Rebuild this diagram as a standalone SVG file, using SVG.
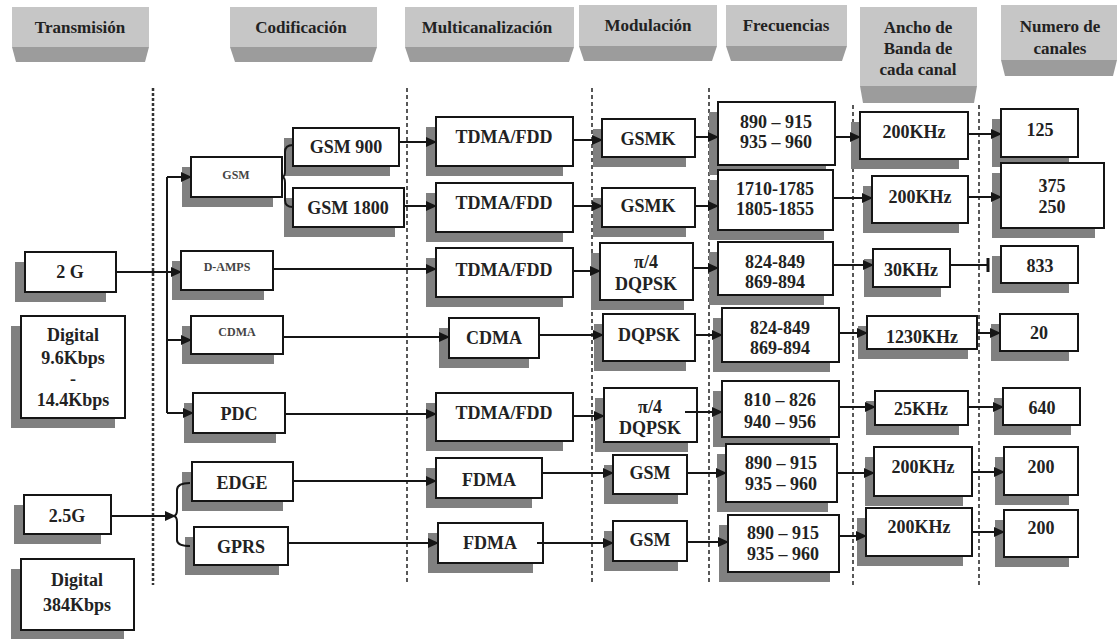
<svg xmlns="http://www.w3.org/2000/svg" width="1118" height="639" viewBox="0 0 1118 639">
<style>
.bg{fill:#fff}
.hl{fill:#c6c6c6}
.hd{fill:#9c9c9c}
.sh{fill:#808080}
.box{fill:#fff;stroke:#151515;stroke-width:2}
.t{font-family:"Liberation Serif","Times New Roman",serif;font-weight:bold;font-size:18px;fill:#222;text-anchor:middle}
.h{font-size:17px}
.s{font-size:12px;fill:#444}
.c{stroke:#151515;stroke-width:2;fill:none}
.d{stroke:#222;stroke-width:1.5;stroke-dasharray:4 3;fill:none}
.d1{stroke:#333;stroke-width:2.5;stroke-dasharray:3 2;fill:none}
</style>
<defs>
<marker id="ar" markerUnits="userSpaceOnUse" markerWidth="11" markerHeight="10" refX="10" refY="5" orient="auto"><path d="M0,0 L11,5 L0,10 z" fill="#151515"/></marker>
<marker id="tee" markerUnits="userSpaceOnUse" markerWidth="4" markerHeight="14" refX="2" refY="7" orient="auto"><rect x="0.5" y="0" width="3" height="14" fill="#151515"/></marker>
</defs>
<rect class="bg" x="0" y="0" width="1118" height="639"/>

<g id="headers">
<g id="h-transmision"><rect class="hl" x="12" y="7" width="137" height="40"/><polygon class="hd" points="12,47 149,47 145,62 16,62"/><text class="t h" x="80" y="33">Transmisión</text></g>
<g id="h-codificacion"><rect class="hl" x="230" y="7" width="147" height="40"/><polygon class="hd" points="230,47 377,47 372,62 235,62"/><text class="t h" x="301" y="33">Codificación</text></g>
<g id="h-multicanalizacion"><rect class="hl" x="405" y="7" width="169" height="40"/><polygon class="hd" points="405,47 574,47 569,62 410,62"/><text class="t h" x="487" y="33">Multicanalización</text></g>
<g id="h-modulacion"><rect class="hl" x="579" y="5" width="138" height="41"/><polygon class="hd" points="579,46 717,46 712,61 584,61"/><text class="t h" x="648" y="31">Modulación</text></g>
<g id="h-frecuencias"><rect class="hl" x="726" y="5" width="121" height="41"/><polygon class="hd" points="726,46 847,46 842,61 731,61"/><text class="t h" x="786" y="31">Frecuencias</text></g>
<g id="h-ancho"><rect class="hl" x="860" y="7" width="117" height="79"/><polygon class="hd" points="860,86 977,86 974,103 863,103"/><text class="t h" x="918" y="33">Ancho de</text><text class="t h" x="918" y="54">Banda de</text><text class="t h" x="918" y="75">cada canal</text></g>
<g id="h-numero"><rect class="hl" x="1001" y="5" width="116" height="55"/><polygon class="hd" points="1001,60 1117,60 1113,76 1005,76"/><text class="t h" x="1060" y="32">Numero de</text><text class="t h" x="1060" y="54">canales</text></g>
</g>

<g id="separators">
<line class="d1" x1="153" y1="88" x2="153" y2="585"/>
<line class="d" x1="407" y1="88" x2="407" y2="585"/>
<line class="d" x1="592" y1="88" x2="592" y2="585"/>
<line class="d" x1="709" y1="88" x2="709" y2="585"/>
<line class="d" x1="853" y1="105" x2="853" y2="585"/>
<line class="d" x1="979" y1="105" x2="979" y2="585"/>
</g>

<g id="n-2g"><rect class="sh" x="15" y="262" width="91" height="40"/><rect class="box" x="25" y="252" width="91" height="40"/><text class="t" x="70" y="278">2 G</text></g>
<g id="n-dig1"><rect class="sh" x="11" y="326" width="104" height="102"/><rect class="box" x="21" y="316" width="104" height="102"/><text class="t" x="73" y="341">Digital</text><text class="t" x="73" y="364">9.6Kbps</text><text class="t" x="73" y="385">-</text><text class="t" x="73" y="406">14.4Kbps</text></g>
<g id="n-25g"><rect class="sh" x="14" y="505" width="87" height="39"/><rect class="box" x="24" y="495" width="87" height="39"/><text class="t" x="67" y="522">2.5G</text></g>
<g id="n-dig2"><rect class="sh" x="11" y="569" width="113" height="70"/><rect class="box" x="21" y="559" width="113" height="71"/><text class="t" x="77" y="586">Digital</text><text class="t" x="77" y="611">384Kbps</text></g>

<g id="n-gsm"><rect class="sh" x="182" y="167" width="91" height="40"/><rect class="box" x="191" y="157" width="91" height="40"/><text class="t s" x="236" y="179">GSM</text></g>
<g id="n-gsm900"><rect class="sh" x="284" y="138" width="106" height="38"/><rect class="box" x="293" y="128" width="106" height="38"/><text class="t" x="346" y="153">GSM 900</text></g>
<g id="n-gsm1800"><rect class="sh" x="284" y="198" width="111" height="39"/><rect class="box" x="293" y="188" width="111" height="39"/><text class="t" x="348" y="214">GSM 1800</text></g>
<g id="n-damps"><rect class="sh" x="172" y="261" width="92" height="39"/><rect class="box" x="181" y="251" width="92" height="39"/><text class="t s" x="227" y="271">D-AMPS</text></g>
<g id="n-cdma1"><rect class="sh" x="182" y="326" width="92" height="38"/><rect class="box" x="191" y="316" width="92" height="38"/><text class="t s" x="237" y="336">CDMA</text></g>
<g id="n-pdc"><rect class="sh" x="184" y="403" width="92" height="40"/><rect class="box" x="193" y="393" width="92" height="40"/><text class="t" x="239" y="420">PDC</text></g>
<g id="n-edge"><rect class="sh" x="182" y="472" width="101" height="39"/><rect class="box" x="192" y="462" width="101" height="39"/><text class="t" x="242" y="489">EDGE</text></g>
<g id="n-gprs"><rect class="sh" x="185" y="537" width="94" height="38"/><rect class="box" x="194" y="527" width="94" height="38"/><text class="t" x="241" y="553">GPRS</text></g>

<g id="n-tdma1"><rect class="sh" x="426" y="127" width="137" height="49"/><rect class="box" x="436" y="117" width="137" height="49"/><text class="t" x="504" y="143">TDMA/FDD</text></g>
<g id="n-tdma2"><rect class="sh" x="426" y="193" width="137" height="49"/><rect class="box" x="436" y="183" width="137" height="49"/><text class="t" x="504" y="209">TDMA/FDD</text></g>
<g id="n-tdma3"><rect class="sh" x="426" y="258" width="137" height="49"/><rect class="box" x="436" y="248" width="137" height="49"/><text class="t" x="504" y="276">TDMA/FDD</text></g>
<g id="n-cdma2"><rect class="sh" x="439" y="328" width="90" height="40"/><rect class="box" x="449" y="318" width="90" height="40"/><text class="t" x="494" y="344">CDMA</text></g>
<g id="n-tdma4"><rect class="sh" x="426" y="403" width="137" height="48"/><rect class="box" x="436" y="393" width="137" height="48"/><text class="t" x="504" y="419">TDMA/FDD</text></g>
<g id="n-fdma1"><rect class="sh" x="426" y="468" width="106" height="40"/><rect class="box" x="436" y="458" width="106" height="40"/><text class="t" x="489" y="486">FDMA</text></g>
<g id="n-fdma2"><rect class="sh" x="428" y="533" width="105" height="40"/><rect class="box" x="438" y="523" width="105" height="40"/><text class="t" x="490" y="549">FDMA</text></g>

<g id="n-gsmk1"><rect class="sh" x="593" y="129" width="93" height="38"/><rect class="box" x="602" y="119" width="93" height="38"/><text class="t" x="648" y="145">GSMK</text></g>
<g id="n-gsmk2"><rect class="sh" x="593" y="198" width="93" height="39"/><rect class="box" x="602" y="188" width="93" height="39"/><text class="t" x="648" y="212">GSMK</text></g>
<g id="n-pi1"><rect class="sh" x="591" y="253" width="93" height="57"/><rect class="box" x="600" y="243" width="93" height="57"/><text class="t" x="646" y="268">π/4</text><text class="t" x="646" y="290">DQPSK</text></g>
<g id="n-dqpsk"><rect class="sh" x="594" y="324" width="92" height="47"/><rect class="box" x="603" y="314" width="92" height="47"/><text class="t" x="649" y="341">DQPSK</text></g>
<g id="n-pi2"><rect class="sh" x="595" y="398" width="93" height="54"/><rect class="box" x="604" y="388" width="93" height="54"/><text class="t" x="650" y="413">π/4</text><text class="t" x="650" y="434">DQPSK</text></g>
<g id="n-gsmm1"><rect class="sh" x="604" y="465" width="74" height="39"/><rect class="box" x="613" y="455" width="74" height="39"/><text class="t" x="650" y="479">GSM</text></g>
<g id="n-gsmm2"><rect class="sh" x="604" y="531" width="74" height="40"/><rect class="box" x="613" y="521" width="74" height="40"/><text class="t" x="650" y="546">GSM</text></g>

<g id="n-f1"><rect class="sh" x="709" y="112" width="117" height="63"/><rect class="box" x="718" y="102" width="117" height="63"/><text class="t" x="776" y="128">890 – 915</text><text class="t" x="776" y="148">935 – 960</text></g>
<g id="n-f2"><rect class="sh" x="709" y="180" width="115" height="60"/><rect class="box" x="718" y="170" width="115" height="60"/><text class="t" x="775" y="195">1710-1785</text><text class="t" x="775" y="215">1805-1855</text></g>
<g id="n-f3"><rect class="sh" x="709" y="252" width="115" height="53"/><rect class="box" x="718" y="242" width="115" height="53"/><text class="t" x="775" y="268">824-849</text><text class="t" x="775" y="288">869-894</text></g>
<g id="n-f4"><rect class="sh" x="713" y="318" width="117" height="54"/><rect class="box" x="722" y="308" width="117" height="54"/><text class="t" x="780" y="334">824-849</text><text class="t" x="780" y="354">869-894</text></g>
<g id="n-f5"><rect class="sh" x="713" y="391" width="117" height="56"/><rect class="box" x="722" y="381" width="117" height="56"/><text class="t" x="780" y="406">810 – 826</text><text class="t" x="780" y="428">940 – 956</text></g>
<g id="n-f6"><rect class="sh" x="717" y="454" width="111" height="58"/><rect class="box" x="726" y="444" width="111" height="58"/><text class="t" x="781" y="469">890 – 915</text><text class="t" x="781" y="490">935 – 960</text></g>
<g id="n-f7"><rect class="sh" x="719" y="525" width="111" height="57"/><rect class="box" x="728" y="515" width="111" height="57"/><text class="t" x="783" y="539">890 – 915</text><text class="t" x="783" y="560">935 – 960</text></g>

<g id="n-bw1"><rect class="sh" x="851" y="122" width="108" height="47"/><rect class="box" x="860" y="112" width="108" height="47"/><text class="t" x="914" y="138">200KHz</text></g>
<g id="n-bw2"><rect class="sh" x="863" y="186" width="96" height="47"/><rect class="box" x="872" y="176" width="96" height="47"/><text class="t" x="920" y="203">200KHz</text></g>
<g id="n-bw3"><rect class="sh" x="864" y="259" width="77" height="38"/><rect class="box" x="873" y="249" width="77" height="38"/><text class="t" x="911" y="276">30KHz</text></g>
<g id="n-bw4"><rect class="sh" x="858" y="326" width="110" height="33"/><rect class="box" x="867" y="316" width="110" height="33"/><text class="t" x="922" y="343">1230KHz</text></g>
<g id="n-bw5"><rect class="sh" x="866" y="401" width="93" height="34"/><rect class="box" x="875" y="391" width="93" height="34"/><text class="t" x="921" y="415">25KHz</text></g>
<g id="n-bw6"><rect class="sh" x="865" y="457" width="98" height="49"/><rect class="box" x="874" y="447" width="98" height="49"/><text class="t" x="923" y="473">200KHz</text></g>
<g id="n-bw7"><rect class="sh" x="857" y="518" width="106" height="48"/><rect class="box" x="866" y="508" width="106" height="48"/><text class="t" x="919" y="533">200KHz</text></g>

<g id="n-c1"><rect class="sh" x="992" y="119" width="77" height="48"/><rect class="box" x="1001" y="109" width="77" height="48"/><text class="t" x="1040" y="136">125</text></g>
<g id="n-c2"><rect class="sh" x="992" y="173" width="103" height="65"/><rect class="box" x="1001" y="163" width="103" height="65"/><text class="t" x="1052" y="192">375</text><text class="t" x="1052" y="213">250</text></g>
<g id="n-c3"><rect class="sh" x="992" y="256" width="77" height="37"/><rect class="box" x="1001" y="246" width="77" height="37"/><text class="t" x="1040" y="272">833</text></g>
<g id="n-c4"><rect class="sh" x="991" y="324" width="78" height="37"/><rect class="box" x="1000" y="314" width="78" height="37"/><text class="t" x="1039" y="339">20</text></g>
<g id="n-c5"><rect class="sh" x="994" y="398" width="77" height="37"/><rect class="box" x="1003" y="388" width="77" height="37"/><text class="t" x="1042" y="414">640</text></g>
<g id="n-c6"><rect class="sh" x="995" y="457" width="74" height="48"/><rect class="box" x="1004" y="447" width="74" height="48"/><text class="t" x="1041" y="473">200</text></g>
<g id="n-c7"><rect class="sh" x="995" y="520" width="74" height="47"/><rect class="box" x="1004" y="510" width="74" height="47"/><text class="t" x="1041" y="534">200</text></g>

<g id="connectors">
<path class="c" d="M116,272 H181" marker-end="url(#ar)"/>
<path class="c" d="M167,177 V413"/>
<path class="c" d="M167,177 H191" marker-end="url(#ar)"/>
<path class="c" d="M167,340 H191" marker-end="url(#ar)"/>
<path class="c" d="M167,413 H193" marker-end="url(#ar)"/>
<path class="c" d="M293,145 Q285,145 285,152 V171 Q285,177 282,177 Q285,177 285,183 V200 Q285,207 293,207" stroke-width="1.5"/>
<path class="c" d="M111,516 H175" marker-end="url(#ar)" stroke-width="1.5"/>
<path class="c" d="M190,483 Q177,483 177,490 V510 Q177,516 173,516 Q177,516 177,522 V540 Q177,546 190,546" stroke-width="1.5"/>
<path class="c" d="M399,142 H436" marker-end="url(#ar)"/>
<path class="c" d="M404,206 H436" marker-end="url(#ar)"/>
<path class="c" d="M273,269 H436" marker-end="url(#ar)"/>
<path class="c" d="M283,337 H449" marker-end="url(#ar)"/>
<path class="c" d="M285,414 H436" marker-end="url(#ar)"/>
<path class="c" d="M293,481 H436" marker-end="url(#ar)"/>
<path class="c" d="M288,543 H438" marker-end="url(#ar)"/>
<path class="c" d="M573,140 H602" marker-end="url(#ar)"/>
<path class="c" d="M573,206 H602" marker-end="url(#ar)"/>
<path class="c" d="M573,271 H600" marker-end="url(#ar)"/>
<path class="c" d="M539,335 H603" marker-end="url(#ar)" stroke-width="1.5"/>
<path class="c" d="M573,416 H604" marker-end="url(#ar)"/>
<path class="c" d="M542,473 H613" marker-end="url(#ar)" stroke-width="1.5"/>
<path class="c" d="M537,543 H613" marker-end="url(#ar)" stroke-width="1.5"/>
<path class="c" d="M695,137 H718" marker-end="url(#ar)"/>
<path class="c" d="M695,206 H718" marker-end="url(#ar)"/>
<path class="c" d="M693,268 H718" marker-end="url(#ar)"/>
<path class="c" d="M695,335 H722" marker-end="url(#ar)"/>
<path class="c" d="M685,412 H722" marker-end="url(#ar)" stroke-width="1.5"/>
<path class="c" d="M687,473 H726" marker-end="url(#ar)" stroke-width="1.5"/>
<path class="c" d="M687,542 H728" marker-end="url(#ar)"/>
<path class="c" d="M835,137 H860" marker-end="url(#ar)"/>
<path class="c" d="M833,198 H872" marker-end="url(#ar)"/>
<path class="c" d="M833,265 H873" marker-end="url(#ar)"/>
<path class="c" d="M839,333 H867" marker-end="url(#ar)"/>
<path class="c" d="M839,407 H875" marker-end="url(#ar)"/>
<path class="c" d="M837,473 H874" marker-end="url(#ar)" stroke-width="1.5"/>
<path class="c" d="M839,536 H866" marker-end="url(#ar)"/>
<path class="c" d="M968,134 H1001" marker-end="url(#ar)"/>
<path class="c" d="M968,197 H1001" marker-end="url(#ar)"/>
<path class="c" d="M950,265 H988" marker-end="url(#tee)" stroke-width="1.5"/>
<path class="c" d="M977,333 H1000" marker-end="url(#ar)"/>
<path class="c" d="M968,407 H1003" marker-end="url(#ar)"/>
<path class="c" d="M972,472 H1004" marker-end="url(#ar)"/>
<path class="c" d="M972,532 H1004" marker-end="url(#ar)"/>
</g>
</svg>
